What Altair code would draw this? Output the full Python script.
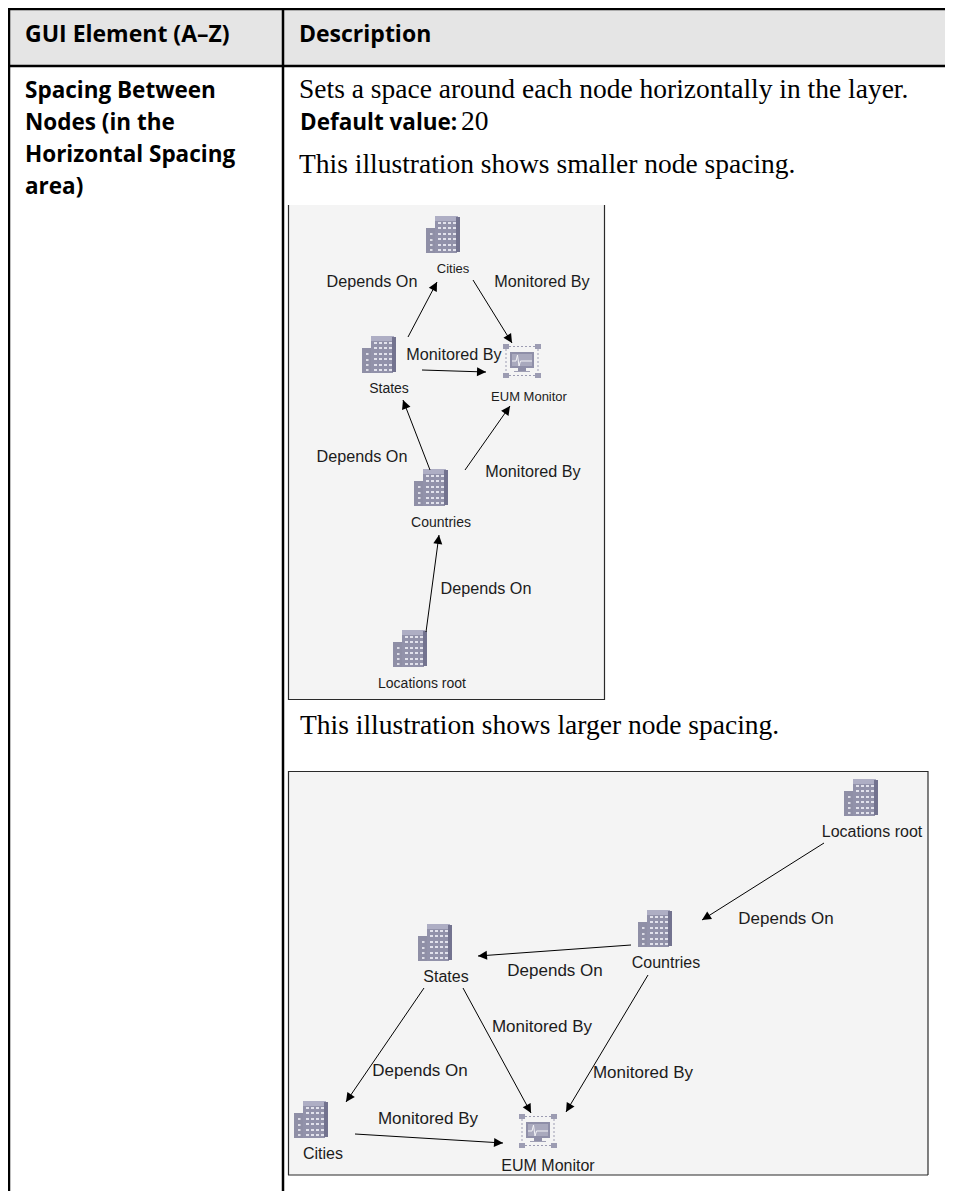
import math
import altair as alt
import pandas as pd

# ---- reference picture extent (pixels) used as the data space
X_DOMAIN = [8, 945]
Y_DOMAIN = [1191, 8]

# ---- table text
HEAD_TEXT = ["GUI Element (A–Z)", "Description"]
HEAD_X = [25, 299]
HEAD_Y = [42, 42]
ROW_TEXT = ["Spacing Between", "Nodes (in the", "Horizontal Spacing", "area)", "Default value:"]
ROW_X = [25, 25, 25, 25, 300]
ROW_Y = [98, 130, 162, 194, 130]
BODY_TEXT = ["Sets a space around each node horizontally in the layer.", "20",
             "This illustration shows smaller node spacing.",
             "This illustration shows larger node spacing."]
BODY_X = [299, 461, 299, 300]
BODY_Y = [98, 130, 173, 734]

# ---- diagram edge labels and node labels
EDGE_LABEL_A = ["Depends On", "Monitored By", "Monitored By", "Depends On", "Monitored By", "Depends On"]
EDGE_LABEL_A_X = [372, 542, 454, 362, 533, 486]
EDGE_LABEL_A_Y = [282, 282, 355, 457, 472, 589]
EDGE_LABEL_B = ["Depends On", "Depends On", "Monitored By", "Depends On", "Monitored By", "Monitored By"]
EDGE_LABEL_B_X = [786, 555, 542, 420, 643, 428]
EDGE_LABEL_B_Y = [919, 971, 1027, 1071, 1073, 1119]
NODE_LABEL_A = ["States", "Countries", "Locations root"]
NODE_LABEL_A_X = [389, 441, 422]
NODE_LABEL_A_Y = [389, 523, 684]
NODE_LABEL_C = ["Cities", "EUM Monitor"]
NODE_LABEL_C_X = [453, 529]
NODE_LABEL_C_Y = [269, 397]
NODE_LABEL_B = ["Locations root", "Countries", "States", "Cities", "EUM Monitor"]
NODE_LABEL_B_X = [872, 666, 446, 323, 548]
NODE_LABEL_B_Y = [832, 963, 977, 1154, 1166]

# ---- edges: tail -> arrow tip
EDGE_X1 = [408, 473, 422, 430, 465, 426, 824, 631, 648, 424, 463, 355]
EDGE_Y1 = [337, 280, 370, 470, 470, 632, 843, 945, 975, 988, 988, 1134]
EDGE_X2 = [437, 512, 486, 403, 510, 439, 702, 478, 566, 346, 531, 503]
EDGE_Y2 = [282, 343, 372, 400, 406, 535, 920, 956, 1112, 1102, 1113, 1143]

# ---- node icons (top-left corners)
BUILD_X = [426, 362, 414, 393, 844, 638, 418, 294]
BUILD_Y = [216, 336, 469, 630, 779, 910, 924, 1101]
MON_X = [503, 519]
MON_Y = [344, 1114]

# ---- icon parts (offsets from the icon corner)
BUILD_PARTS = [(0, 12, 10, 37, "#8f8fa6"), (9, 4, 31, 37, "#9292aa"), (9, 0, 32, 5, "#aeaec4"),
               (30, 1, 34, 36, "#73738f")]
WIN_COLS = [12, 17, 22, 27]
WIN_ROWS = [6, 11, 17, 22, 28, 33]
WIN_LEFT_ROWS = [17, 23, 28, 33]
CORNERS = [(0, 0), (32, 0), (0, 29), (32, 29)]
ECG_X = [9, 13, 14.5, 16, 17.5, 29]
ECG_Y = [17, 17, 11, 22, 17, 17]

# ---- colours
HEADER_FILL = "#e5e5e5"
PANEL_FILL = "#f4f4f4"
INK = "#000000"
LABEL_INK = "#1c1c1c"

rects = [
    (8, 8, 945, 66, HEADER_FILL),
    (288, 205, 605, 700, PANEL_FILL),
    (288, 771, 928, 1175, PANEL_FILL),
]
for bx, by in zip(BUILD_X, BUILD_Y):
    for p in BUILD_PARTS:
        rects.append((bx + p[0], by + p[1], bx + p[2], by + p[3], p[4]))
    for wy in WIN_ROWS:
        for wx in WIN_COLS:
            rects.append((bx + wx, by + wy, bx + wx + 3, by + wy + 2, "#e2e2ec"))
    for wy in WIN_LEFT_ROWS:
        rects.append((bx + 4, by + wy, bx + 6.5, by + wy + 2, "#dcdce6"))
for mx, my in zip(MON_X, MON_Y):
    rects.append((mx + 7, my + 8, mx + 31, my + 24, "#8f8fa8"))
    rects.append((mx + 9, my + 10, mx + 29, my + 22, "#a9a9bd"))
    rects.append((mx + 15, my + 24, mx + 23, my + 27, "#8f8fa8"))
    rects.append((mx + 11, my + 27, mx + 27, my + 28, "#a0a0b4"))
    for cx, cy in CORNERS:
        rects.append((mx + cx, my + cy, mx + cx + 6, my + cy + 5, "#9c9cb2"))
rect_df = pd.DataFrame(rects, columns=["x", "y", "x2", "y2", "c"])

frame_df = pd.DataFrame(
    [(9, 9, 945, 9), (9, 66, 945, 66), (9, 8, 9, 1191), (283, 8, 283, 1191)],
    columns=["x", "y", "x2", "y2"])
panel_df = pd.DataFrame(
    [(288.5, 205, 288.5, 700), (288, 699.5, 605, 699.5), (604.5, 205, 604.5, 700),
     (288, 771.5, 928, 771.5), (288.5, 771, 288.5, 1175), (288, 1175, 928, 1175), (928, 771, 928, 1175)],
    columns=["x", "y", "x2", "y2"])
dash_rows = []
for mx, my in zip(MON_X, MON_Y):
    dash_rows += [(mx + 6, my + 2.5, mx + 32, my + 2.5), (mx + 6, my + 31.5, mx + 32, my + 31.5),
                  (mx + 3, my + 5, mx + 3, my + 29), (mx + 35, my + 5, mx + 35, my + 29)]
dash_df = pd.DataFrame(dash_rows, columns=["x", "y", "x2", "y2"])
edge_df = pd.DataFrame({"x": EDGE_X1, "y": EDGE_Y1, "x2": EDGE_X2, "y2": EDGE_Y2})
edge_df["a"] = [math.degrees(math.atan2(b - a, -(d - c))) % 360
                for a, b, c, d in zip(EDGE_X1, EDGE_X2, EDGE_Y1, EDGE_Y2)]

ecg_rows = []
for i, (mx, my) in enumerate(zip(MON_X, MON_Y)):
    for k, (ex, ey) in enumerate(zip(ECG_X, ECG_Y)):
        ecg_rows.append({"x": mx + ex, "y": my + ey, "icon": i, "k": k})
ecg_df = pd.DataFrame(ecg_rows)

X = lambda f: alt.X(f, type="quantitative", scale=alt.Scale(domain=X_DOMAIN, nice=False, zero=False), axis=None)
Y = lambda f: alt.Y(f, type="quantitative", scale=alt.Scale(domain=Y_DOMAIN, nice=False, zero=False), axis=None)


def rules(df, **kw):
    return alt.Chart(df).mark_rule(**kw).encode(x=X("x"), y=Y("y"), x2="x2:Q", y2="y2:Q")


def texts(labels, xs, ys, **kw):
    df = pd.DataFrame({"t": labels, "x": xs, "y": ys})
    return alt.Chart(df).mark_text(**kw).encode(x=X("x"), y=Y("y"), text="t:N")


rect_layer = alt.Chart(rect_df).mark_rect(strokeWidth=0).encode(
    x=X("x"), y=Y("y"), x2="x2:Q", y2="y2:Q", color=alt.Color("c:N", scale=None))
arrows = alt.Chart(edge_df).mark_point(
    shape="M0,0L0.5,1L-0.5,1Z", filled=True, opacity=1, color=INK, size=324, strokeWidth=0
).encode(x=X("x2"), y=Y("y2"), angle=alt.Angle("a:Q", scale=None))
ecg = alt.Chart(ecg_df).mark_line(color="#f2f2f6", strokeWidth=1).encode(
    x=X("x"), y=Y("y"), detail="icon:N", order="k:Q")

SANS_BOLD = dict(font="Open Sans", fontWeight="bold", align="left", baseline="alphabetic", color=INK)
SERIF = dict(font="Liberation Serif", align="left", baseline="alphabetic", color=INK)
LABEL = dict(font="Liberation Sans", align="center", baseline="middle", color=LABEL_INK)

chart = alt.layer(
    rect_layer,
    rules(frame_df, color=INK, strokeWidth=2.5),
    rules(panel_df, color="#2a2a2a", strokeWidth=1.2),
    rules(dash_df, color="#9c9cb2", strokeWidth=1, strokeDash=[2, 2]),
    ecg,
    rules(edge_df, color=INK, strokeWidth=1),
    arrows,
    texts(HEAD_TEXT, HEAD_X, HEAD_Y, fontSize=23, **SANS_BOLD),
    texts(ROW_TEXT, ROW_X, ROW_Y, fontSize=22.5, **SANS_BOLD),
    texts(BODY_TEXT, BODY_X, BODY_Y, fontSize=27.5, **SERIF),
    texts(EDGE_LABEL_A, EDGE_LABEL_A_X, EDGE_LABEL_A_Y, fontSize=16.2, **LABEL),
    texts(EDGE_LABEL_B, EDGE_LABEL_B_X, EDGE_LABEL_B_Y, fontSize=17, **LABEL),
    texts(NODE_LABEL_A, NODE_LABEL_A_X, NODE_LABEL_A_Y, fontSize=14, **LABEL),
    texts(NODE_LABEL_C, NODE_LABEL_C_X, NODE_LABEL_C_Y, fontSize=13, **LABEL),
    texts(NODE_LABEL_B, NODE_LABEL_B_X, NODE_LABEL_B_Y, fontSize=16, **LABEL),
).properties(
    width=937, height=1183, padding=0, background="#ffffff",
    autosize=alt.AutoSizeParams(type="none"),
).configure_view(stroke=None)

chart.save("out.html", embed_options={"renderer": "svg", "actions": False})
